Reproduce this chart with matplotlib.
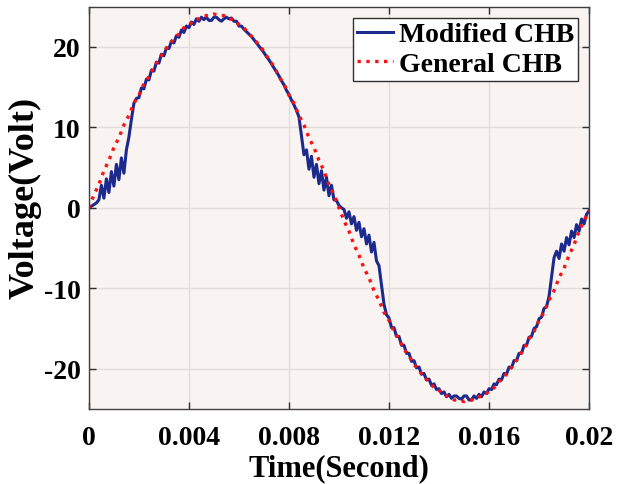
import numpy as np
import matplotlib
matplotlib.use("Agg")
import matplotlib.pyplot as plt

plt.rcParams['font.family'] = ['Liberation Serif', 'DejaVu Serif']
plt.rcParams['font.weight'] = 'bold'
plt.rcParams['axes.unicode_minus'] = False

# values, one every 0.1 ms
modified_chb = [
    0.0, 0.2, 0.4, 0.6, 1.0, 2.8, 1.2, 3.6, 1.9, 4.5,
    2.7, 5.4, 3.5, 6.2, 4.3, 7.2, 8.8, 11.0, 13.0, 13.6,
    13.7, 14.9, 14.8, 16.0, 15.9, 17.1, 17.0, 18.1, 18.0, 19.1,
    18.9, 19.9, 19.8, 20.7, 20.5, 21.4, 21.2, 22.1, 21.8, 22.6,
    22.4, 23.1, 22.8, 23.5, 23.2, 23.7, 23.4, 23.7, 23.3, 23.3,
    23.7, 23.7, 23.4, 23.2, 23.5, 23.7, 23.5, 23.6, 23.2, 23.2,
    22.6, 22.6, 22.2, 21.9, 21.6, 21.3, 20.9, 20.5, 20.1, 19.7,
    19.3, 18.8, 18.4, 17.9, 17.4, 16.9, 16.4, 15.8, 15.3, 14.6,
    14.1, 13.4, 12.8, 12.1, 11.3, 9.0, 6.6, 7.2, 4.8, 6.4,
    3.8, 5.4, 3.0, 4.6, 2.2, 3.8, 1.5, 2.8, 1.0, 0.9,
    0.3, 0.0, -0.2, -1.3, -0.5, -2.0, -1.1, -2.8, -1.8, -3.6,
    -2.6, -4.5, -3.4, -5.5, -4.3, -6.6, -7.2, -9.6, -12.0, -13.3,
    -13.7, -14.9, -14.9, -16.0, -16.0, -17.1, -17.1, -18.1, -18.1, -19.1,
    -19.0, -19.9, -19.8, -20.7, -20.6, -21.4, -21.3, -22.1, -21.9, -22.6,
    -22.5, -23.1, -22.9, -23.5, -23.2, -23.7, -23.4, -23.4, -23.7, -23.8,
    -23.4, -23.4, -23.9, -23.9, -23.4, -23.7, -23.2, -23.5, -22.9, -23.1,
    -22.5, -22.6, -21.9, -22.0, -21.3, -21.4, -20.6, -20.7, -19.8, -19.9,
    -19.0, -19.0, -18.1, -18.1, -17.1, -17.1, -16.1, -16.0, -15.0, -14.8,
    -13.8, -13.6, -12.5, -12.3, -11.0, -8.6, -6.2, -5.4, -6.3, -4.5,
    -5.4, -3.7, -4.6, -2.9, -3.7, -2.1, -2.9, -1.4, -2.0, -0.8,
    -0.4,
]

# one every 0.2 ms
general_chb = [
    0.0, 1.6, 2.9, 4.6, 5.9, 7.5, 8.7, 10.3, 11.5, 13.0,
    14.0, 15.4, 16.3, 17.6, 18.4, 19.5, 20.2, 21.1, 21.6, 22.4,
    22.7, 23.3, 23.5, 23.9, 23.9, 24.1, 23.9, 23.9, 23.5, 23.4,
    22.8, 22.4, 21.6, 21.1, 20.2, 19.5, 18.4, 17.6, 16.3, 15.4,
    14.0, 13.0, 11.5, 10.3, 8.7, 7.5, 5.9, 4.6, 2.9, 1.6,
    0.0, -1.6, -2.9, -4.6, -5.9, -7.5, -8.7, -10.3, -11.5, -13.0,
    -14.0, -15.4, -16.3, -17.6, -18.4, -19.5, -20.2, -21.1, -21.6, -22.4,
    -22.7, -23.3, -23.5, -23.9, -23.9, -24.1, -23.9, -23.9, -23.5, -23.4,
    -22.8, -22.4, -21.6, -21.1, -20.2, -19.5, -18.4, -17.6, -16.3, -15.4,
    -14.0, -13.0, -11.5, -10.3, -8.7, -7.5, -5.9, -4.6, -2.9, -1.6,
    -0.3,
]
assert len(modified_chb) == 201 and len(general_chb) == 101

t_modified = np.linspace(0, 0.02, len(modified_chb))
t_general = np.linspace(0, 0.02, len(general_chb))

x_ticks = [0, 0.004, 0.008, 0.012, 0.016, 0.02]
x_tick_labels = ["0", "0.004", "0.008", "0.012", "0.016", "0.02"]
y_ticks = [-20, -10, 0, 10, 20]

fig = plt.figure(figsize=(6.26, 4.85), dpi=100)
ax = fig.add_axes([0.142, 0.155, 0.799, 0.829])
ax.set_facecolor('#f9f3f1')

ax.plot(t_modified, modified_chb, color='#1b2a8c', linewidth=2.2, label='Modified CHB')
ax.plot(t_general, general_chb, color='#ff1010', linestyle=':', linewidth=2.4, label='General CHB')

ax.set_xlim(0, 0.02)
ax.set_ylim(-25, 25)
ax.set_xticks(x_ticks)
ax.set_xticklabels(x_tick_labels)
ax.set_yticks(y_ticks)
ax.grid(True, color='#e2dcdc', linewidth=1.0)
ax.set_axisbelow(True)

ax.tick_params(direction='in', length=5, width=1, top=True, right=True,
               labelsize=20, colors='#303030', labelcolor='black')
ax.tick_params(axis='x', pad=12)
ax.tick_params(axis='y', pad=6)
for s in ax.spines.values():
    s.set_color('#404040')
    s.set_linewidth(1.0)

ax.set_xlabel('Time(Second)', fontsize=22, fontweight='bold', labelpad=2)
ax.set_ylabel('Voltage(Volt)', fontsize=26, fontweight='bold', va='center')
ax.yaxis.set_label_coords(-0.128, 0.527)

leg = ax.legend(loc='upper right', fontsize=20, handlelength=1.3, handletextpad=0.2,
                labelspacing=0.15, borderpad=0.15, borderaxespad=0.4, fancybox=False,
                framealpha=1.0)
leg.get_frame().set_edgecolor('#303030')
leg.get_frame().set_linewidth(1.0)

fig.savefig('out.png', dpi=100)
